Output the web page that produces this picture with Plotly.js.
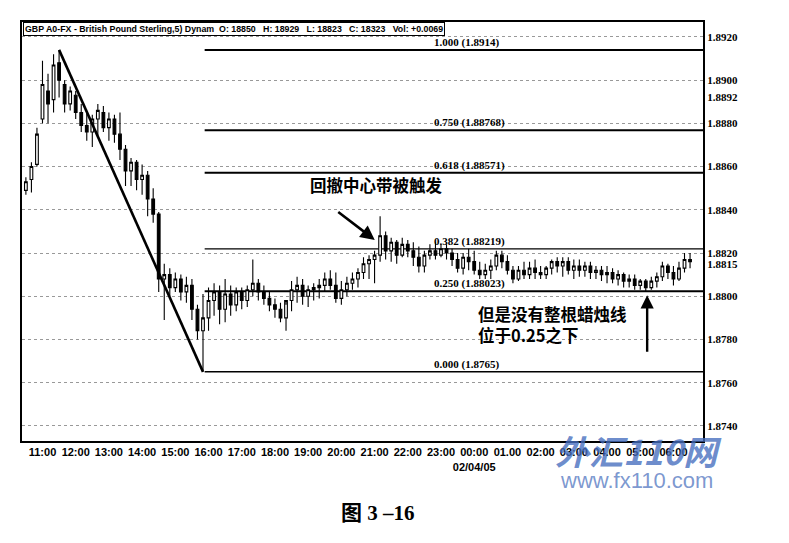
<!DOCTYPE html>
<html>
<head>
<meta charset="utf-8">
<script src="https://cdn.plot.ly/plotly-3.0.1.min.js"></script>
<style>html,body{margin:0;padding:0;background:#fff;}#chart{width:789px;height:543px;}</style>
</head>
<body>
<div id="chart"></div>
<script>
// ---- Data (10-minute GBP bars, hours relative to 11:00) ----
const barStartHour = -0.5;
const barStepHour = 1 / 6;
const openP = [1.8849,1.8854,1.8861,1.8882,1.8895,1.8891,1.8908,1.8898,1.8889,1.8893,
1.8885,1.8879,1.8876,1.8882,1.8885,1.8878,1.8882,1.8875,1.8868,1.8858,
1.8862,1.8854,1.8856,1.8845,1.8838,1.8808,1.8810,1.8804,1.8808,1.8802,
1.8805,1.8794,1.8784,1.8790,1.8798,1.8802,1.8794,1.8801,1.8796,1.8802,
1.8798,1.8803,1.8806,1.8802,1.8799,1.8796,1.8794,1.8790,1.8798,1.8803,
1.8805,1.8800,1.8803,1.8804,1.8805,1.8808,1.8805,1.8799,1.8803,1.8806,
1.8808,1.8811,1.8815,1.8817,1.8819,1.8828,1.8821,1.8825,1.8819,1.8824,
1.8821,1.8818,1.8814,1.8819,1.8821,1.8819,1.8822,1.8820,1.8817,1.8813,
1.8818,1.8816,1.8812,1.8810,1.8812,1.8814,1.8819,1.8816,1.8812,1.8808,
1.8812,1.8810,1.8813,1.8811,1.8810,1.8813,1.8816,1.8814,1.8816,1.8812,
1.8814,1.8812,1.8814,1.8811,1.8812,1.8810,1.8811,1.8808,1.8810,1.8807,
1.8808,1.8805,1.8807,1.8804,1.8807,1.8809,1.8814,1.8811,1.8808,1.8813,1.8817];
const highP = [1.8855,1.8862,1.8878,1.8909,1.8903,1.8912,1.8914,1.8900,1.8897,1.8895,
1.8889,1.8885,1.8884,1.8889,1.8888,1.8885,1.8884,1.8885,1.8870,1.8864,
1.8863,1.8861,1.8858,1.8850,1.8839,1.8815,1.8813,1.8811,1.8810,1.8809,
1.8808,1.8796,1.8801,1.8804,1.8806,1.8805,1.8808,1.8805,1.8804,1.8804,
1.8805,1.8817,1.8808,1.8805,1.8802,1.8799,1.8797,1.8796,1.8807,1.8809,
1.8808,1.8805,1.8806,1.8808,1.8811,1.8812,1.8811,1.8807,1.8809,1.8811,
1.8813,1.8818,1.8819,1.8821,1.8837,1.8830,1.8827,1.8826,1.8827,1.8826,
1.8825,1.8823,1.8821,1.8824,1.8825,1.8824,1.8824,1.8822,1.8820,1.8820,
1.8822,1.8821,1.8816,1.8815,1.8817,1.8821,1.8821,1.8819,1.8814,1.8814,
1.8816,1.8816,1.8817,1.8814,1.8814,1.8817,1.8818,1.8818,1.8818,1.8817,
1.8817,1.8816,1.8816,1.8814,1.8814,1.8814,1.8813,1.8812,1.8811,1.8810,
1.8810,1.8808,1.8808,1.8809,1.8811,1.8816,1.8815,1.8814,1.8816,1.8820,1.8820];
const lowP = [1.8847,1.8848,1.8860,1.8880,1.8880,1.8885,1.8892,1.8885,1.8886,1.8882,
1.8876,1.8872,1.8869,1.8874,1.8876,1.8872,1.8871,1.8863,1.8851,1.8851,
1.8849,1.8847,1.8837,1.8834,1.8802,1.8789,1.8800,1.8802,1.8798,1.8797,
1.8789,1.8780,1.8765,1.8784,1.8791,1.8787,1.8788,1.8791,1.8793,1.8794,
1.8795,1.8800,1.8798,1.8796,1.8793,1.8790,1.8788,1.8784,1.8793,1.8797,
1.8796,1.8795,1.8798,1.8799,1.8802,1.8803,1.8797,1.8796,1.8800,1.8803,
1.8804,1.8808,1.8808,1.8806,1.8816,1.8817,1.8816,1.8815,1.8818,1.8818,
1.8814,1.8811,1.8811,1.8817,1.8817,1.8818,1.8817,1.8814,1.8811,1.8810,
1.8812,1.8810,1.8808,1.8808,1.8808,1.8812,1.8813,1.8810,1.8806,1.8807,
1.8808,1.8808,1.8808,1.8808,1.8808,1.8810,1.8811,1.8809,1.8810,1.8808,
1.8809,1.8809,1.8808,1.8808,1.8807,1.8806,1.8806,1.8805,1.8804,1.8804,
1.8803,1.8803,1.8802,1.8803,1.8804,1.8807,1.8808,1.8805,1.8807,1.8811,1.8813];
const closeP = [1.8853,1.8860,1.8875,1.8898,1.8889,1.8907,1.8900,1.8889,1.8895,1.8885,
1.8879,1.8876,1.8882,1.8886,1.8878,1.8882,1.8875,1.8868,1.8858,1.8862,
1.8854,1.8856,1.8845,1.8838,1.8808,1.8810,1.8804,1.8808,1.8802,1.8805,
1.8794,1.8784,1.8790,1.8798,1.8802,1.8794,1.8801,1.8796,1.8802,1.8798,
1.8803,1.8806,1.8802,1.8799,1.8796,1.8794,1.8790,1.8798,1.8803,1.8805,
1.8800,1.8803,1.8804,1.8805,1.8808,1.8805,1.8799,1.8803,1.8806,1.8808,
1.8811,1.8815,1.8817,1.8819,1.8828,1.8821,1.8825,1.8819,1.8824,1.8821,
1.8818,1.8814,1.8819,1.8821,1.8819,1.8822,1.8820,1.8817,1.8813,1.8818,
1.8816,1.8812,1.8810,1.8812,1.8814,1.8819,1.8816,1.8812,1.8808,1.8812,
1.8810,1.8813,1.8811,1.8810,1.8813,1.8816,1.8814,1.8816,1.8812,1.8814,
1.8812,1.8814,1.8811,1.8812,1.8810,1.8811,1.8808,1.8810,1.8807,1.8808,
1.8805,1.8807,1.8804,1.8807,1.8809,1.8814,1.8811,1.8808,1.8813,1.8817,1.8816];

const xTickHours = [0,1,2,3,4,5,6,7,8,9,10,11,12,13,14,15,16,17,18,19];
const xTickLabels = ['11:00','12:00','13:00','14:00','15:00','16:00','17:00','18:00','19:00','20:00','21:00',
  '22:00','23:00','00:00<br>02/04/05','01.00','02:00','03:00','04.00','05:00','06:00'];
const yTickVals = [1.8920,1.8900,1.8892,1.8880,1.8860,1.8840,1.8820,1.8815,1.8800,1.8780,1.8760,1.8740];

const fibRatios = ['1.000','0.750','0.618','0.382','0.250','0.000'];
const fibPrices = [1.8914, 1.88768, 1.88571, 1.88219, 1.88023, 1.8765];
const fibWidths = [2, 2, 2, 1.2, 2, 1.5];

const headerText = 'GBP A0-FX - British Pound Sterling,5) Dynam  O: 18850   H: 18929   L: 18823   C: 18323   Vol: +0.0069';
const note1 = '回撤中心带被触发';
const note2 = '但是没有整根蜡烛线<br>位于0.25之下';
const caption = '图 3 –16';

// ---- Build ----
const xBars = openP.map((_, i) => barStartHour + i * barStepHour);
const peakIdx = highP.indexOf(Math.max(...highP));
const lowIdx = lowP.indexOf(Math.min(...lowP));
const xRange = [-0.617, 19.89];

const candle = {
  type: 'candlestick', x: xBars, open: openP, high: highP, low: lowP, close: closeP,
  increasing: {line: {color: '#000', width: 1.1}, fillcolor: '#fff'},
  decreasing: {line: {color: '#000', width: 1.1}, fillcolor: '#000'},
  whiskerwidth: 0, hoverinfo: 'skip', showlegend: false
};
const trend = {
  type: 'scatter', mode: 'lines', x: [xBars[peakIdx], xBars[lowIdx]],
  y: [highP[peakIdx], lowP[lowIdx]], line: {color: '#000', width: 2.6},
  hoverinfo: 'skip', showlegend: false
};

const shapes = fibPrices.map((p, i) => ({
  type: 'line', xref: 'x', yref: 'y', x0: xBars[lowIdx] + 0.05, x1: xRange[1], y0: p, y1: p,
  line: {color: '#000', width: fibWidths[i]}, layer: 'below'
}));

const labelFont = {family: 'Liberation Serif, serif', size: 11, color: '#000', weight: 'bold'};
const annotations = fibPrices.map((p, i) => ({
  xref: 'paper', yref: 'y', x: 0.602, y: p, xanchor: 'left', yanchor: 'bottom',
  text: fibRatios[i] + ' (' + p + ')', showarrow: false, font: labelFont, yshift: -1
}));

annotations.push({
  xref: 'paper', yref: 'paper', x: 0, y: 1, xanchor: 'left', yanchor: 'top', xshift: 1,
  text: headerText, showarrow: false, bgcolor: '#fff', bordercolor: '#000', borderwidth: 1, borderpad: 1,
  font: {family: 'Liberation Sans, Arial, sans-serif', size: 8.8, color: '#000', weight: 'bold'}
});
const cjkFont = {family: 'Noto Sans CJK SC, sans-serif', size: 16.5, color: '#000', weight: 'bold'};
annotations.push({xref: 'paper', yref: 'paper', x: 0.42, y: 0.611, xanchor: 'left', yanchor: 'middle',
  text: note1, showarrow: false, font: cjkFont});
annotations.push({xref: 'paper', yref: 'paper', x: 0.666, y: 0.277, xanchor: 'left', yanchor: 'middle',
  align: 'left', text: note2, showarrow: false, font: cjkFont});
// arrow to the spike
annotations.push({xref: 'paper', yref: 'paper', x: 0.518, y: 0.48, ax: -38, ay: -29, text: '',
  showarrow: true, arrowhead: 2, arrowsize: 1.1, arrowwidth: 2.6, arrowcolor: '#000'});
// upward arrow
annotations.push({xref: 'paper', yref: 'paper', x: 0.918, y: 0.348, ax: 0, ay: 58, text: '',
  showarrow: true, arrowhead: 2, arrowsize: 1.1, arrowwidth: 2.4, arrowcolor: '#000'});
// caption
annotations.push({xref: 'paper', yref: 'paper', x: 0.523, y: -0.172, xanchor: 'center', yanchor: 'middle',
  text: caption, showarrow: false,
  font: {family: 'Liberation Serif, Noto Sans CJK SC, serif', size: 21, color: '#000', weight: 'bold'}});
// watermark
annotations.push({xref: 'paper', yref: 'paper', x: 0.905, y: -0.022, xanchor: 'center', yanchor: 'middle',
  text: '<i>外汇110网</i>', showarrow: false,
  font: {family: 'Noto Sans CJK SC, sans-serif', size: 34, color: 'rgba(70,110,190,0.8)', weight: 'bold'}});
annotations.push({xref: 'paper', yref: 'paper', x: 0.902, y: -0.095, xanchor: 'center', yanchor: 'middle',
  text: 'www.fx110.com', showarrow: false,
  font: {family: 'Liberation Sans, Arial, sans-serif', size: 22, color: 'rgba(90,125,195,0.8)'}});

const layout = {
  width: 789, height: 543,
  margin: {l: 22, r: 86, t: 22, b: 102},
  paper_bgcolor: '#fff', plot_bgcolor: '#fff',
  showlegend: false,
  xaxis: {
    type: 'linear', range: xRange, rangeslider: {visible: false},
    tickmode: 'array', tickvals: xTickHours, ticktext: xTickLabels, tickangle: 0,
    showgrid: false, zeroline: false, showline: true, linecolor: '#000', linewidth: 2, mirror: true,
    ticks: '', tickfont: {family: 'Liberation Sans Narrow, Liberation Sans, sans-serif', size: 11, color: '#000', weight: 'bold'}
  },
  yaxis: {
    side: 'right', range: [1.87330, 1.89269],
    tickmode: 'array', tickvals: yTickVals, ticktext: yTickVals.map(v => v.toFixed(4)),
    showgrid: false, zeroline: false, showline: true, linecolor: '#000', linewidth: 2, mirror: true,
    ticks: '', tickfont: labelFont,
    minor: {tickmode: 'linear', tick0: 1.874, dtick: 0.002, showgrid: true, gridcolor: '#999', griddash: 'dot', gridwidth: 1, ticks: ''}
  },
  shapes: shapes,
  annotations: annotations
};

Plotly.newPlot('chart', [candle, trend], layout, {staticPlot: true, displayModeBar: false});
</script>
</body>
</html>
